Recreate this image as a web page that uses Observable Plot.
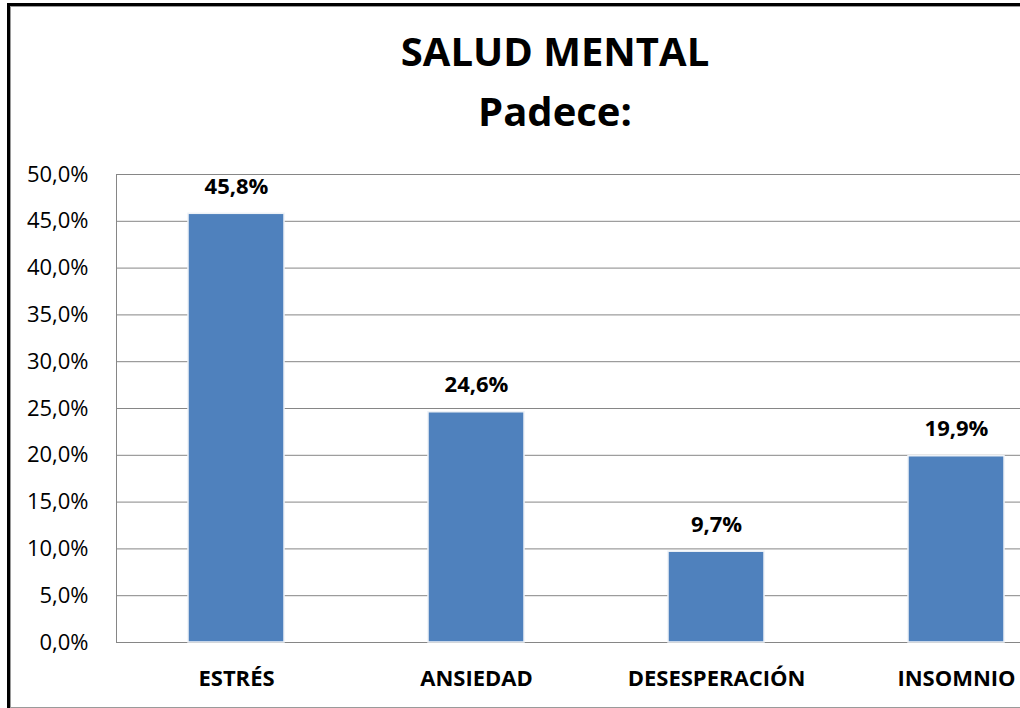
<!DOCTYPE html>
<html>
<head>
<meta charset="utf-8">
<script src="https://cdn.jsdelivr.net/npm/d3@7"></script>
<script src="https://cdn.jsdelivr.net/npm/@observablehq/plot@0.6"></script>
<style>
  html, body { margin: 0; padding: 0; background: #fff; overflow: hidden; width: 1020px; height: 708px; }
  #wrap { position: relative; width: 1020px; height: 708px; overflow: hidden; }
  #frame { position: absolute; left: 7px; top: 3px; width: 1200px; height: 702px; border: 3px solid #000;
           box-shadow: inset 0 0 0 1px #9a9a9a; pointer-events: none; z-index: 2; }
  #title { position: absolute; left: 0; width: 1110px; top: 21px; text-align: center;
           font-family: "Open Sans", sans-serif; font-weight: 700; font-size: 40px; line-height: 60px; color: #000; z-index: 1; }
  #chart { position: absolute; left: 0; top: 0; width: 1076px; z-index: 0; }
  #chart svg { background: transparent; max-width: none; width: 1076px; height: 708px; }
</style>
</head>
<body>
<div id="wrap">
  <div id="title">SALUD MENTAL<br>Padece:</div>
  <div id="chart"></div>
  <div id="frame"></div>
</div>
<script>
const categories = ["ESTRÉS", "ANSIEDAD", "DESESPERACIÓN", "INSOMNIO"];
const values = [45.8, 24.6, 9.7, 19.9];
const yTicks = [0, 5, 10, 15, 20, 25, 30, 35, 40, 45, 50];

const es = d3.formatLocale({decimal: ",", thousands: ".", grouping: [3], currency: ["", " €"]});
const f1 = es.format(".1f");
const pct = v => f1(v) + "%";

const data = categories.map((c, i) => ({category: c, value: values[i]}));

const chart = Plot.plot({
  width: 1076,
  height: 708,
  marginLeft: 116,
  marginRight: 0,
  marginTop: 174,
  marginBottom: 66,
  style: {fontFamily: "'Open Sans', sans-serif", fontSize: "22px", color: "#000", background: "transparent"},
  x: {domain: categories, paddingInner: 0.6, paddingOuter: 0.3, label: null},
  y: {domain: [0, 50], label: null},
  marks: [
    Plot.gridY(yTicks, {stroke: "#868686", strokeOpacity: 1, strokeWidth: 1}),
    Plot.frame({anchor: "left", stroke: "#868686", strokeWidth: 1}),
    Plot.barY(data, {x: "category", y: "value", fill: "#4F81BD", stroke: "#eef2f7", strokeWidth: 1.5}),
    Plot.text(data, {x: "category", y: "value", text: d => pct(d.value), dy: -27, fontWeight: "bold", fontSize: 22, fill: "#000"}),
    Plot.axisY({ticks: yTicks, tickSize: 0, tickPadding: 28, tickFormat: pct, fontSize: 22, fill: "#000"}),
    Plot.axisX({tickSize: 0, tickPadding: 28, fontWeight: "bold", fontSize: 22, fill: "#000"})
  ]
});
document.getElementById("chart").appendChild(chart);
</script>
</body>
</html>
